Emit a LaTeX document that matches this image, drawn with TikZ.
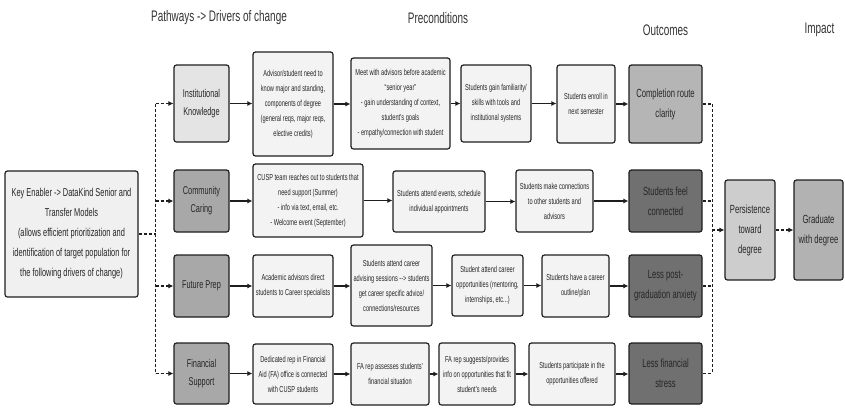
\documentclass[tikz,border=0pt]{standalone}
\usepackage{fontspec}
\setmainfont{Liberation Sans}[FakeStretch=0.65]
\usetikzlibrary{arrows.meta, positioning}
\definecolor{boxline}{HTML}{1E1E1E}
\definecolor{prefill}{HTML}{F3F3F3}
\definecolor{keyfill}{HTML}{F0F0F0}
\definecolor{instfill}{HTML}{E4E4E4}
\definecolor{drvfill}{HTML}{A8A8A8}
\definecolor{clarfill}{HTML}{B5B5B5}
\definecolor{outfill}{HTML}{707070}
\definecolor{persfill}{HTML}{CDCDCD}
\definecolor{gradfill}{HTML}{B2B2B2}
\tikzset{
  box/.style={draw=boxline, line width=1.2pt, rounded corners=2.5pt, fill=prefill, text=black!85, align=center, inner sep=1pt},
  small/.style={box, font=\fontsize{8.7}{15}\selectfont},
  drv/.style={box, fill=drvfill, minimum width=55pt, font=\fontsize{11.3}{18}\selectfont},
  big/.style={box, font=\fontsize{11.8}{20}\selectfont},
  outc/.style={big, fill=outfill, minimum width=73pt},
  head/.style={text=black!80, font=\fontsize{15.3}{18}\selectfont},
  flow/.style={draw=boxline, line width=1.4pt, -{Latex[length=5pt,width=5pt]}},
  dotline/.style={draw=boxline, line width=1.1pt, dash pattern=on 3pt off 2pt},
  dotflow/.style={dotline, -{Latex[length=5pt,width=5pt]}}
}

\begin{document}
\begin{tikzpicture}[x=1pt, y=-1pt]
  \useasboundingbox (0,0) rectangle (845,408);
  % headings
  \node[head] (h_pathways) at (219,18) {Pathways -> Drivers of change};
  \node[head] (h_precond) at (438,18) {Preconditions};
  \node[head] (h_outcomes) at (665.5,30) {Outcomes};
  \node[head] (h_impact) at (819.5,30) {Impact};

  \node[big, fill=keyfill, minimum width=133pt, minimum height=126pt, font=\fontsize{11.4}{20}\selectfont] (key_enabler) at (71.5,234)
    {Key Enabler -> DataKind Senior and\\Transfer Models\\(allows efficient prioritization and\\identification of target population for\\the following drivers of change)};

  % drivers of change
  \node[drv, fill=instfill, minimum height=77pt] (inst_knowledge) at (201.5,103.5) {Institutional\\Knowledge};
  \node[drv, minimum height=62pt] (comm_caring) at (201.5,201) {Community\\Caring};
  \node[drv, minimum height=62pt] (future_prep) at (201.5,286) {Future Prep};
  \node[drv, minimum height=61pt] (fin_support) at (201.5,373.5) {Financial\\Support};

  % preconditions, row 1
  \node[small, minimum width=80pt, minimum height=104pt] (advisor_need) at (293,104)
    {Advisor/student need to\\know major and standing,\\components of degree\\(general reqs, major reqs,\\elective credits)};
  \node[small, minimum width=99pt, minimum height=91pt] (meet_advisors) at (400.5,103.5)
    {Meet with advisors before academic\\``senior year''\\- gain understanding of context,\\student's goals\\- empathy/connection with student};
  \node[small, minimum width=70pt, minimum height=77pt] (gain_skills) at (496,103.5)
    {Students gain familiarity/\\skills with tools and\\institutional systems};
  \node[small, minimum width=58pt, minimum height=78pt] (enroll_next) at (586,104)
    {Students enroll in\\next semester};

  % row 2
  \node[small, minimum width=110pt, minimum height=73pt] (cusp_reach) at (308,200.5)
    {CUSP team reaches out to students that\\need support (Summer)\\- info via text, email, etc.\\- Welcome event (September)};
  \node[small, minimum width=92pt, minimum height=61pt] (attend_events) at (439,201.5)
    {Students attend events, schedule\\individual appointments};
  \node[small, minimum width=77pt, minimum height=62pt] (make_conn) at (554.5,201)
    {Students make connections\\to other students and\\advisors};

  % row 3
  \node[small, minimum width=80pt, minimum height=62pt] (advisors_direct) at (293,286)
    {Academic advisors direct\\students to Career specialists};
  \node[small, minimum width=81pt, minimum height=81pt] (career_sessions) at (391.5,285.5)
    {Students attend career\\advising sessions -{}-{}> students\\get career specific advice/\\connections/resources};
  \node[small, minimum width=71pt, minimum height=61pt] (career_opps) at (487.5,285.5)
    {Student attend career\\opportunities (mentoring,\\internships, etc...)};
  \node[small, minimum width=67pt, minimum height=62pt] (career_plan) at (575.5,286)
    {Students have a career\\outline/plan};

  % row 4
  \node[small, minimum width=80pt, minimum height=60pt] (fa_rep) at (293,374)
    {Dedicated rep in Financial\\Aid (FA) office is connected\\with CUSP students};
  \node[small, minimum width=78pt, minimum height=62pt] (fa_assess) at (390,374)
    {FA rep assesses students'\\financial situation};
  \node[small, minimum width=76pt, minimum height=62pt] (fa_suggest) at (477,374)
    {FA rep suggests/provides\\info on opportunities that fit\\student's needs};
  \node[small, minimum width=86pt, minimum height=62pt] (participate) at (572,374)
    {Students participate in the\\opportunities offered};

  % outcomes
  \node[outc, fill=clarfill, minimum height=78pt] (completion) at (665.5,104) {Completion route\\clarity};
  \node[outc, minimum height=62pt] (feel_connected) at (665.5,201) {Students feel\\connected};
  \node[outc, minimum height=62pt] (less_anxiety) at (665.5,286) {Less post-\\graduation anxiety};
  \node[outc, minimum height=61pt] (less_stress) at (665.5,373.5) {Less financial\\stress};

  % impact
  \node[big, fill=persfill, minimum width=50pt, minimum height=100pt] (persistence) at (750,230) {Persistence\\toward\\degree};
  \node[big, fill=gradfill, minimum width=49pt, minimum height=100pt] (graduate) at (818.5,230) {Graduate\\with degree};

  % solid arrows along each row
  \foreach \a/\b in {inst_knowledge/advisor_need, advisor_need/meet_advisors, meet_advisors/gain_skills,
      gain_skills/enroll_next, enroll_next/completion,
      comm_caring/cusp_reach, cusp_reach/attend_events, attend_events/make_conn, make_conn/feel_connected,
      future_prep/advisors_direct, advisors_direct/career_sessions, career_sessions/career_opps,
      career_opps/career_plan, career_plan/less_anxiety,
      fin_support/fa_rep, fa_rep/fa_assess, fa_assess/fa_suggest, fa_suggest/participate, participate/less_stress}
    \draw[flow] (\a.east) -- (\a.east -| \b.west);

  % dashed links
  \coordinate (bus_left) at ([xshift=17pt]key_enabler.east);
  \coordinate (bus_right) at ([xshift=-12pt]persistence.west);
  \draw[dotline] (key_enabler.east) -- (bus_left);
  \draw[dotline] (bus_left |- inst_knowledge.west) -- (bus_left |- fin_support.west);
  \foreach \n in {inst_knowledge, comm_caring, future_prep, fin_support}
    \draw[dotflow] (bus_left |- \n.west) -- (\n.west);
  \foreach \n in {completion, feel_connected, less_anxiety, less_stress}
    \draw[dotline] (\n.east) -- (\n.east -| bus_right);
  \draw[dotline] (completion.east -| bus_right) -- (less_stress.east -| bus_right);
  \draw[dotflow] (bus_right) -- (persistence.west);
  \draw[dotflow] (persistence) -- (graduate);
\end{tikzpicture}
\end{document}
